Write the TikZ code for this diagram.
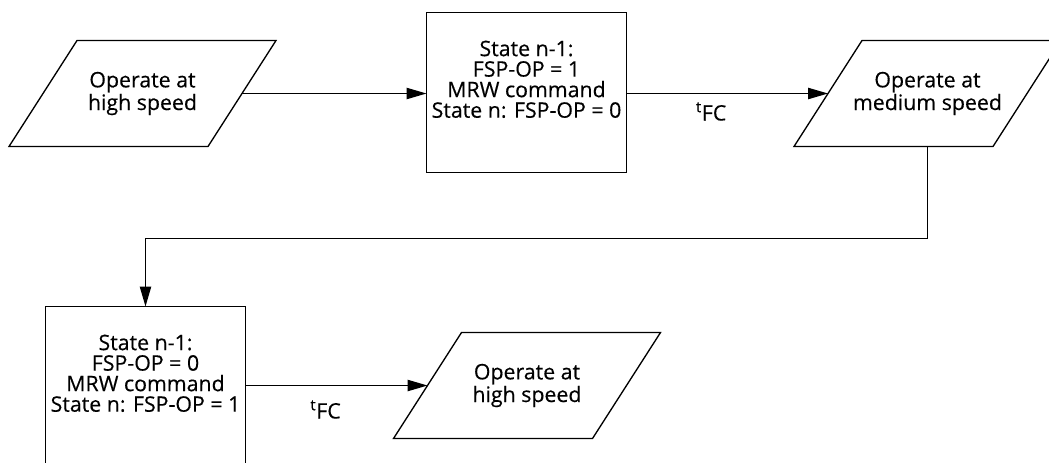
\documentclass[tikz,border=0pt]{standalone}
\usepackage{fontspec}
\setmainfont{Open Sans}[FakeBold=0.35]
\usetikzlibrary{arrows.meta,calc}
\begin{document}
\begin{tikzpicture}[x=0.75pt,y=-0.75pt,
  font=\fontsize{16}{15.4}\selectfont,
  line width=1pt,
  stepbox/.style={draw, rectangle, minimum width=150pt, minimum height=120pt, align=center, inner sep=0pt, outer sep=0pt},
  para/.style={rectangle, minimum width=149.25pt, minimum height=79.5pt, align=center, inner sep=0pt, outer sep=0pt},
  arr/.style={-{Triangle[length=15pt,width=8.5pt]}},
  tlbl/.style={inner sep=0pt}
]
\useasboundingbox (0,0) rectangle (1049,462);
\clip (0,0) rectangle (1049,462);

\node[para] (p1) at (142.5,93.5) {Operate at\\high speed};
\node[stepbox] (b1) at (526.5,92.5) {State n-1:\\FSP-OP = 1\\MRW command\\State n: FSP-OP = 0\\\strut};
\node[para] (p2) at (927.5,93.5) {Operate at\\medium speed};
\node[stepbox] (b2) at (145.5,386.5) {State n-1:\\FSP-OP = 0\\MRW command\\State n: FSP-OP = 1\\\strut};
\node[para] (p3) at (527,385.5) {Operate at\\high speed};

\foreach \n in {p1,p2,p3}
  \draw ($(\n.north west)+(34,0)$) -- ($(\n.north east)+(34,0)$)
     -- ($(\n.south east)+(-34,0)$) -- ($(\n.south west)+(-34,0)$) -- cycle;

\coordinate (turn) at (0,238.5);

\draw[arr] (p1.east) -- (b1.west |- p1.east);
\draw[arr] (b1.east |- p2.west) -- (p2.west)
  node[tlbl, pos=0.42, yshift=-13.5pt] {\textsuperscript{t}FC};
\draw[arr] (p2.south) -- (p2.south |- turn) -| (b2.north);
\draw[arr] (b2.east |- p3.west) -- (p3.west)
  node[tlbl, pos=0.44, yshift=-18pt] {\textsuperscript{t}FC};
\end{tikzpicture}
\end{document}
